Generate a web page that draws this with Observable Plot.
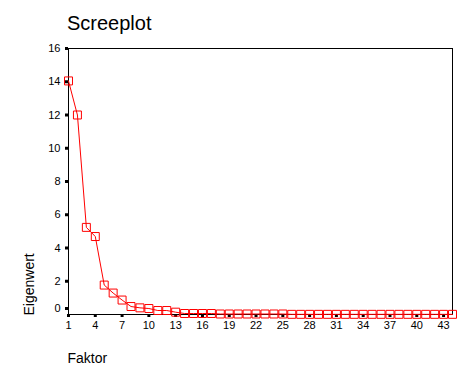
<!DOCTYPE html>
<html>
<head>
<meta charset="utf-8">
<script src="https://cdn.jsdelivr.net/npm/d3@7"></script>
<script src="https://cdn.jsdelivr.net/npm/@observablehq/plot@0.6"></script>
<style>
  body { margin: 0; background: #fff; font-family: "Liberation Sans", Arial, sans-serif; }
  #wrap { position: relative; width: 472px; height: 377px; }
  #title { position: absolute; left: 67px; top: 11px; font-size: 20px; line-height: 24px; color: #000; }
  #chart { position: absolute; left: 0; top: 40px; }
</style>
</head>
<body>
<div id="wrap">
  <div id="title">Screeplot</div>
  <div id="chart"></div>
</div>
<script>
const factors = d3.range(1, 45);
const eigenvalues = [
  14.05, 12.0, 5.24, 4.69, 1.77, 1.29, 0.87, 0.48, 0.40, 0.36,
  0.24, 0.24, 0.14, 0.06, 0.06, 0.06, 0.06, 0.03, 0.03, 0.03,
  0.03, 0.03, 0.03, 0.03, 0.03, 0.01, 0.01, 0.01, 0.01, 0.01,
  0.01, 0.01, 0.01, 0.01, 0.01, 0.01, 0.01, 0.01, 0.01, 0.01,
  0.01, 0.01, 0.01, 0.01
];
const xTicks = [1, 4, 7, 10, 13, 16, 19, 22, 25, 28, 31, 34, 37, 40, 43];
const yTicks = [2, 4, 6, 8, 10, 12, 14, 16];
const yZeroTick = [0];
const xLabel = "Faktor";
const yLabel = "Eigenwert";

const data = factors.map((f, i) => ({factor: f, value: eigenvalues[i]}));

const chart = Plot.plot({
  width: 472,
  height: 337,
  marginTop: 8,
  marginBottom: 63,
  marginLeft: 68,
  marginRight: 20,
  style: {fontFamily: '"Liberation Sans", Arial, sans-serif', fontSize: "11px", color: "#000", background: "#fff"},
  x: {domain: [1, 44]},
  y: {domain: [0, 16]},
  marks: [
    Plot.frame({stroke: "#000", strokeWidth: 1}),
    Plot.axisY({ticks: yTicks, tickSize: 3, tickPadding: 5, strokeWidth: 3, label: null, fontSize: 11, tickFormat: d => String(d)}),
    Plot.axisY({ticks: yZeroTick, tickSize: 3, tickPadding: 5, strokeWidth: 3, label: null, fontSize: 11, dy: -6, tickFormat: d => String(d)}),
    Plot.axisX({ticks: xTicks, tickSize: 3, tickPadding: 4, strokeWidth: 3, label: null, fontSize: 11, tickFormat: d => String(d)}),
    Plot.line(data, {x: "factor", y: "value", stroke: "#ff0000", strokeWidth: 1}),
    Plot.dot(data, {x: "factor", y: "value", symbol: "square", r: 4.5, stroke: "#ff0000", strokeWidth: 1, fill: "none"}),
    Plot.text([xLabel], {frameAnchor: "bottom-left", dy: 44.5, dx: -1, text: d => d, textAnchor: "start", lineAnchor: "middle", fontSize: 14, fill: "#000"}),
    Plot.text([yLabel], {frameAnchor: "bottom-left", dx: -39, dy: 1, rotate: -90, text: d => d, textAnchor: "start", lineAnchor: "middle", fontSize: 14, fill: "#000"})
  ]
});
document.getElementById("chart").appendChild(chart);
</script>
</body>
</html>
